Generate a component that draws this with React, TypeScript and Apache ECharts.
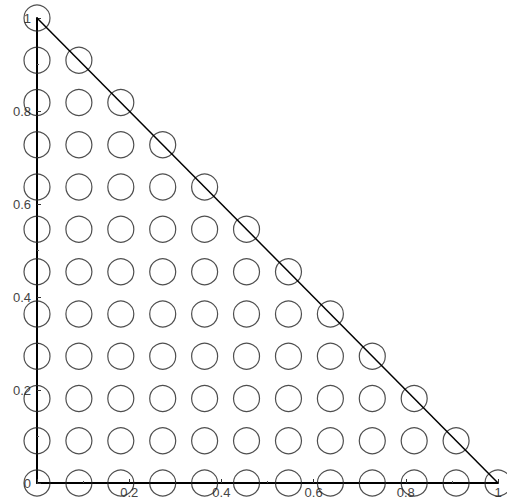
import React, { useEffect, useRef } from "react";
import * as echarts from "echarts";

// lattice points (x, y) with x + y <= 1, step 1/11
const points: [number, number][] = [
  [0, 0], [0.0909, 0], [0.1818, 0], [0.2727, 0], [0.3636, 0], [0.4545, 0], [0.5455, 0], [0.6364, 0], [0.7273, 0], [0.8182, 0], [0.9091, 0], [1, 0],
  [0, 0.0909], [0.0909, 0.0909], [0.1818, 0.0909], [0.2727, 0.0909], [0.3636, 0.0909], [0.4545, 0.0909], [0.5455, 0.0909], [0.6364, 0.0909], [0.7273, 0.0909], [0.8182, 0.0909], [0.9091, 0.0909],
  [0, 0.1818], [0.0909, 0.1818], [0.1818, 0.1818], [0.2727, 0.1818], [0.3636, 0.1818], [0.4545, 0.1818], [0.5455, 0.1818], [0.6364, 0.1818], [0.7273, 0.1818], [0.8182, 0.1818],
  [0, 0.2727], [0.0909, 0.2727], [0.1818, 0.2727], [0.2727, 0.2727], [0.3636, 0.2727], [0.4545, 0.2727], [0.5455, 0.2727], [0.6364, 0.2727], [0.7273, 0.2727],
  [0, 0.3636], [0.0909, 0.3636], [0.1818, 0.3636], [0.2727, 0.3636], [0.3636, 0.3636], [0.4545, 0.3636], [0.5455, 0.3636], [0.6364, 0.3636],
  [0, 0.4545], [0.0909, 0.4545], [0.1818, 0.4545], [0.2727, 0.4545], [0.3636, 0.4545], [0.4545, 0.4545], [0.5455, 0.4545],
  [0, 0.5455], [0.0909, 0.5455], [0.1818, 0.5455], [0.2727, 0.5455], [0.3636, 0.5455], [0.4545, 0.5455],
  [0, 0.6364], [0.0909, 0.6364], [0.1818, 0.6364], [0.2727, 0.6364], [0.3636, 0.6364],
  [0, 0.7273], [0.0909, 0.7273], [0.1818, 0.7273], [0.2727, 0.7273],
  [0, 0.8182], [0.0909, 0.8182], [0.1818, 0.8182],
  [0, 0.9091], [0.0909, 0.9091],
  [0, 1],
];

const diagonal: [number, number][] = [
  [0, 1],
  [1, 0],
];

const fmt = (v: number) => (v === 0 ? "0" : v === 1 ? "1" : String(Number(v.toFixed(1))));

export default function App() {
  const ref = useRef<HTMLDivElement>(null);
  useEffect(() => {
    if (!ref.current) return;
    const chart = echarts.init(ref.current, undefined, { renderer: "svg" });
    const axisCommon = {
      type: "value" as const,
      min: 0,
      max: 1,
      interval: 0.2,
      splitLine: { show: false },
      axisLine: { show: true, onZero: false, lineStyle: { color: "#000", width: 2 } },
      axisTick: { show: true, inside: true, length: 4, lineStyle: { color: "#333", width: 1 } },
      minorTick: { show: true, splitNumber: 2, length: 2, lineStyle: { color: "#555" } },
    };
    chart.setOption({
      animation: false,
      backgroundColor: "#fff",
      grid: { left: 37, right: 9, top: 18, bottom: 20, containLabel: false },
      xAxis: {
        ...axisCommon,
        axisLabel: {
          color: "#444",
          fontFamily: "Liberation Sans, Arial, sans-serif",
          fontSize: 13,
          margin: 3,
          formatter: (v: number) => (v === 0 ? "" : fmt(v)),
        },
      },
      yAxis: {
        ...axisCommon,
        axisLabel: {
          color: "#444",
          fontFamily: "Liberation Sans, Arial, sans-serif",
          fontSize: 13,
          margin: 6,
          formatter: (v: number) => fmt(v),
        },
      },
      series: [
        {
          type: "line",
          data: diagonal,
          symbol: "none",
          lineStyle: { color: "#000", width: 1.5 },
          z: 3,
        },
        {
          type: "scatter",
          data: points,
          symbol: "circle",
          symbolSize: 26,
          itemStyle: { color: "rgba(0,0,0,0)", borderColor: "#222", borderWidth: 1.2 },
          z: 2,
        },
      ],
    });
    return () => chart.dispose();
  }, []);
  return <div ref={ref} style={{ width: 507, height: 503, position: "absolute", left: 0, top: 0 }} />;
}
